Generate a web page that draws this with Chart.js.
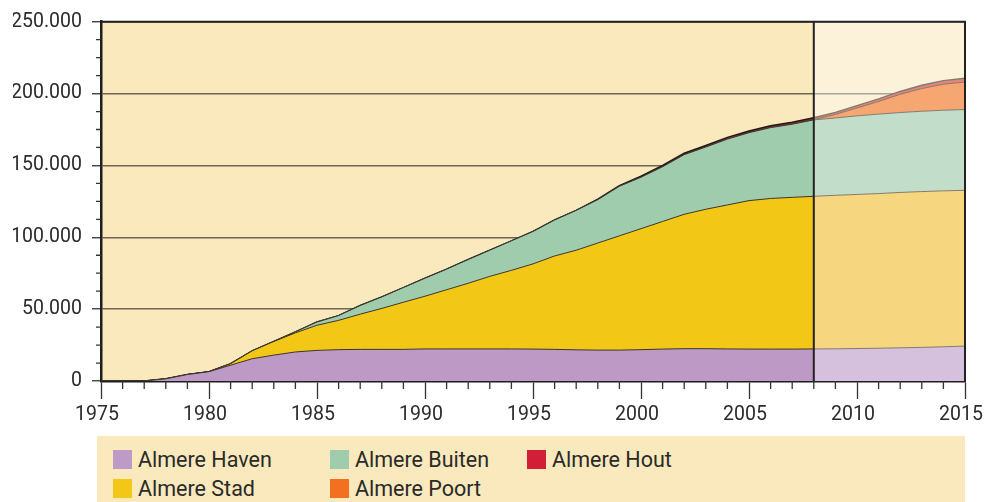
<!DOCTYPE html>
<html>
<head>
<meta charset="utf-8">
<script src="https://cdn.jsdelivr.net/npm/chart.js@4"></script>
<style>
  html, body { margin: 0; padding: 0; background: #fff; overflow: hidden; }
  #wrap { position: absolute; left: 0; top: 0; width: 1000px; height: 440px; }
  #legend { position: absolute; left: 97px; top: 436px; width: 868px; height: 70px; background: #fae9bd; }
  .item { position: absolute; display: flex; align-items: center; height: 19px;
          font: 21.5px Roboto, sans-serif; color: #2a2a2a; line-height: 19px; white-space: nowrap; }
  .sw { width: 19px; height: 19px; margin-right: 6px; }
</style>
</head>
<body>
<div id="wrap"><canvas id="chart" width="1000" height="440"></canvas></div>
<div id="legend"></div>
<script>
// jaartallen
const years = [];
for (let y = 1975; y <= 2015; y++) years.push(y);

const splitYear = 2008; // prognose vanaf hier

// inwoners per stadsdeel (gestapeld)
const haven  = [0,0,0,1500,4500,6500,11000,15500,18000,20200,
                21300,21800,22000,22000,22000,22300,22300,22300,22300,22300,
                22200,22000,21700,21500,21500,21800,22200,22500,22500,22300,
                22200,22200,22200,22300,
                22400,22600,22800,23100,23400,23800,24300];
const stad   = [0,0,0,0,0,0,1000,5500,9500,13300,
                17500,20400,24500,28500,32800,36700,41200,45700,50500,54700,
                59300,65000,69300,74500,79500,84200,88800,93500,97000,100200,
                103300,104800,105600,106200,
                106800,107200,107600,108100,108400,108500,108400];
const buiten = [0,0,0,0,0,0,0,0,0,700,
                2200,3300,6000,8000,10200,12500,14300,16500,18200,20500,
                22500,25000,27700,30200,34500,35800,38100,41500,43300,45800,
                47300,49300,50900,53200,
                53800,54700,55300,55600,55900,56100,56200];
const poort  = [0,0,0,0,0,0,0,0,0,0,
                0,0,0,0,0,0,0,0,0,0,
                0,0,0,0,0,0,0,0,0,0,
                0,0,0,100,
                2500,5500,8800,12700,15800,18100,19100];
const hout   = [0,0,0,0,0,0,0,0,0,0,
                0,0,0,0,0,0,0,0,0,0,
                0,0,0,300,500,700,900,1000,1100,1200,
                1200,1300,1300,1300,
                1400,1600,1800,2000,2300,2500,2700];

const names       = ['Almere Haven', 'Almere Stad', 'Almere Buiten', 'Almere Poort', 'Almere Hout'];
const series      = [haven, stad, buiten, poort, hout];
const colors      = ['#bd99c6', '#f2c716', '#a0ccae', '#f37021', '#d21f37'];
const lightColors = ['#d5c0dd', '#f6d780', '#c3ddcb', '#f6a670', '#e8827d'];
const legendColors = ['#be9ac7', '#f2c718', '#a0ccae', '#f37021', '#d21f37'];

const splitIndex = years.indexOf(splitYear);

const datasets = series.map((vals, i) => ({
  label: names[i],
  data: vals,
  backgroundColor: i === 3 ? lightColors[i] : colors[i],
  borderColor: i === 4 ? '#1e1a16' : '#3b342c',
  borderWidth: i === 4 ? 1.5 : 1,
  fill: i === 0 ? 'origin' : '-1',
  pointRadius: 0,
  tension: 0,
  segment: {
    backgroundColor: ctx => ctx.p0DataIndex >= splitIndex ? lightColors[i] : undefined,
    borderColor: ctx => ctx.p0DataIndex >= splitIndex ? '#857a6c' : undefined
  }
}));

const tickFont = { family: 'Roboto', size: 19.5 };

const decor = {
  id: 'decor',
  beforeDraw(chart) {
    const { ctx, chartArea: a } = chart;
    ctx.save();
    ctx.fillStyle = '#fae9bd';
    ctx.fillRect(a.left, a.top, a.width, a.height);
    ctx.restore();
  },
  beforeDatasetsDraw(chart) {
    const { ctx, chartArea: a, scales } = chart;
    const xs = scales.x.getPixelForValue(splitYear);
    ctx.save();
    ctx.fillStyle = 'rgba(255,255,255,0.42)';
    ctx.fillRect(xs, a.top, a.right - xs, a.height);
    ctx.restore();
  },
  afterDatasetsDraw(chart) {
    const { ctx, chartArea: a, scales } = chart;
    const xs = scales.x.getPixelForValue(splitYear);
    ctx.save();
    ctx.strokeStyle = '#222';
    ctx.lineWidth = 2;
    ctx.beginPath();
    ctx.moveTo(xs, a.top); ctx.lineTo(xs, a.bottom);
    ctx.moveTo(a.left, a.top); ctx.lineTo(a.right, a.top); ctx.lineTo(a.right, a.bottom);
    ctx.stroke();
    // kleine tikjes
    ctx.strokeStyle = '#333';
    ctx.lineWidth = 1.3;
    ctx.beginPath();
    years.forEach(y => {
      if (y % 5 === 0) return;
      const px = scales.x.getPixelForValue(y);
      ctx.moveTo(px, a.bottom); ctx.lineTo(px, a.bottom + 8);
    });
    for (let v = 12500; v < 250000; v += 12500) {
      if (v % 50000 === 0) continue;
      const py = scales.y.getPixelForValue(v);
      ctx.moveTo(a.left - 5, py); ctx.lineTo(a.left, py);
    }
    ctx.stroke();
    ctx.restore();
  }
};

new Chart(document.getElementById('chart'), {
  type: 'line',
  data: { labels: years, datasets: datasets },
  options: {
    responsive: false,
    animation: false,
    layout: { padding: { left: 13, top: 21, right: 35, bottom: 14 } },
    plugins: { legend: { display: false }, tooltip: { enabled: false } },
    scales: {
      x: {
        type: 'linear',
        min: 1975, max: 2015,
        afterFit: s => { s.height = 45; },
        border: { color: '#1e1e1e', width: 2.5 },
        grid: { color: 'rgba(0,0,0,0)', tickColor: '#333', tickLength: 18, tickWidth: 1.3 },
        ticks: { stepSize: 5, padding: 4, labelOffset: -4, color: '#2b2b2b', font: tickFont,
                 maxRotation: 0, callback: v => String(v) }
      },
      y: {
        stacked: true,
        min: 0, max: 250000,
        afterFit: s => { s.width = 88; },
        border: { color: '#1e1e1e', width: 2.5 },
        grid: { color: '#6e6556', lineWidth: 1.5, tickColor: '#333', tickLength: 9, tickWidth: 1.3 },
        ticks: { stepSize: 50000, padding: 10, color: '#2b2b2b', font: tickFont,
                 callback: v => String(v).replace(/\B(?=(\d{3})+(?!\d))/g, '.') }
      }
    }
  },
  plugins: [decor]
});

// legenda: twee rijen, kolommen van boven naar beneden
const colX = [113, 330, 527];
const rowY = [450, 479];
const legend = document.getElementById('legend');
names.forEach((n, i) => {
  const el = document.createElement('div');
  el.className = 'item';
  el.style.left = (colX[Math.floor(i / 2)] - 97) + 'px';
  el.style.top = (rowY[i % 2] - 436) + 'px';
  el.innerHTML = '<span class="sw" style="background:' + legendColors[i] + '"></span>' + n;
  legend.appendChild(el);
});
</script>
</body>
</html>
